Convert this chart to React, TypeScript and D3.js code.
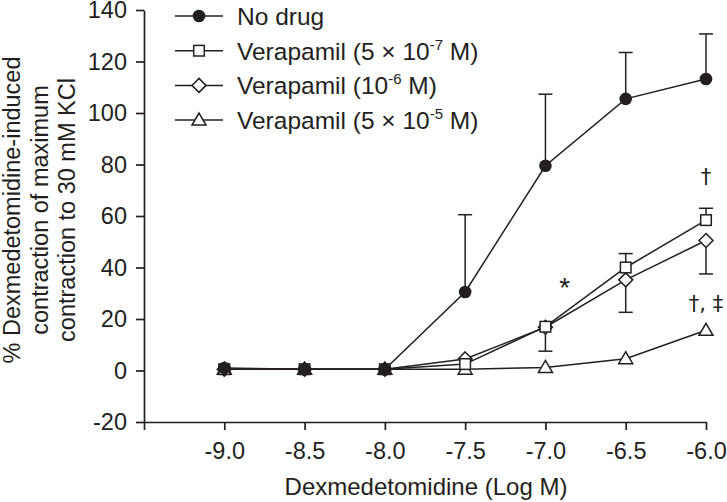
import * as d3 from 'd3';
import * as React from 'react';

const doses = [-9.0, -8.5, -8.0, -7.5, -7.0, -6.5, -6.0];
const noDrug = [1, 0.5, 0.5, 30.5, 79.5, 105.5, 113.2];
const noDrugErr = [0, 0, 0, 30, 27.8, 18, 17.5];
const vera5e7 = [0.5, 0.5, 0.5, 2.5, 17, 40, 58.4];
const vera5e7Err = [0, 0, 0, 0, 0, 5.4, 4.6];
const vera1e6 = [0.5, 0.5, 0.5, 4.5, 16.8, 35.2, 50.5];
const vera1e6Err = [0, 0, 0, 0, 9.3, 12.6, 13];
const vera5e5 = [0.5, 0.5, 0.5, 0.5, 1.2, 4.6, 15.6];
const yTicks = [-20, 0, 20, 40, 60, 80, 100, 120, 140];
const xTicks = [-9.5, -9.0, -8.5, -8.0, -7.5, -7.0, -6.5, -6.0];

const INK = '#231f20';
const FONT = 'Liberation Sans, Arial, sans-serif';

const series = [
  { name: 'No drug', sup: null, values: noDrug, err: noDrugErr, dir: 1, marker: 'circle' },
  { name: 'Verapamil (5 \u00d7 10', sup: '-7', values: vera5e7, err: vera5e7Err, dir: 1, marker: 'square' },
  { name: 'Verapamil (10', sup: '-6', values: vera1e6, err: vera1e6Err, dir: -1, marker: 'diamond' },
  { name: 'Verapamil (5 \u00d7 10', sup: '-5', values: vera5e5, err: null, dir: 1, marker: 'triangle' },
];

const drawMarker = (g, type, x, y) => {
  if (type === 'circle') {
    g.append('circle').attr('cx', x).attr('cy', y).attr('r', 6.3).attr('fill', INK);
  } else if (type === 'square') {
    g.append('rect').attr('x', x - 5.3).attr('y', y - 5.3).attr('width', 10.6).attr('height', 10.6)
      .attr('fill', 'white').attr('stroke', INK).attr('stroke-width', 1.5);
  } else if (type === 'diamond') {
    g.append('path').attr('d', `M${x},${y - 7}L${x + 7},${y}L${x},${y + 7}L${x - 7},${y}Z`)
      .attr('fill', 'white').attr('stroke', INK).attr('stroke-width', 1.5);
  } else {
    g.append('path').attr('d', `M${x},${y - 7}L${x + 7},${y + 5}L${x - 7},${y + 5}Z`)
      .attr('fill', 'white').attr('stroke', INK).attr('stroke-width', 1.5);
  }
};

const App = () => {
  const ref = React.useRef<SVGSVGElement | null>(null);

  React.useEffect(() => {
    const svg = d3.select(ref.current);
    svg.selectAll('*').remove();

    const x = d3.scaleLinear().domain([-9.5, -6.0]).range([144, 706]);
    const y = d3.scaleLinear().domain([-20, 140]).range([422, 10]);

    // axes
    const yAxis = svg.append('g').attr('transform', 'translate(144,0)')
      .call(d3.axisLeft(y).tickValues(yTicks).tickSize(8).tickSizeOuter(0).tickPadding(9)
        .tickFormat((d) => String(d)));
    const xAxis = svg.append('g').attr('transform', 'translate(0,422)')
      .call(d3.axisBottom(x).tickValues(xTicks).tickSize(8).tickSizeOuter(0).tickPadding(12)
        .tickFormat((d) => (d === -9.5 ? '' : (d as number).toFixed(1))));
    [yAxis, xAxis].forEach((a) => {
      a.select('.domain').attr('stroke', INK).attr('stroke-width', 1.7);
      a.selectAll('.tick line').attr('stroke', INK).attr('stroke-width', 1.7);
      a.selectAll('.tick text').attr('fill', INK).style('font-family', FONT).style('font-size', '23.5px');
    });

    // axis titles
    svg.append('text').attr('x', 426).attr('y', 495).attr('text-anchor', 'middle')
      .attr('fill', INK).style('font-family', FONT).style('font-size', '24px')
      .text('Dexmedetomidine (Log M)');
    const yTitle = ['% Dexmedetomidine-induced', 'contraction of maximum', 'contraction to 30 mM KCl'];
    yTitle.forEach((t, i) => {
      svg.append('text').attr('transform', `translate(${20 + i * 27.5},210) rotate(-90)`)
        .attr('text-anchor', 'middle').attr('fill', INK)
        .style('font-family', FONT).style('font-size', '23.5px').text(t);
    });

    const plot = svg.append('g');
    // error bars
    series.forEach((s) => {
      if (!s.err) return;
      s.err.forEach((e, i) => {
        if (!e) return;
        const xp = x(doses[i]);
        const y0 = y(s.values[i]);
        const y1 = y(s.values[i] + s.dir * e);
        plot.append('line').attr('x1', xp).attr('x2', xp).attr('y1', y0).attr('y2', y1)
          .attr('stroke', INK).attr('stroke-width', 1.5);
        plot.append('line').attr('x1', xp - 7).attr('x2', xp + 7).attr('y1', y1).attr('y2', y1)
          .attr('stroke', INK).attr('stroke-width', 1.5);
      });
    });

    // lines
    const line = d3.line<number>().x((_, i) => x(doses[i])).y((d) => y(d));
    series.slice().reverse().forEach((s) => {
      plot.append('path').attr('d', line(s.values)).attr('fill', 'none')
        .attr('stroke', INK).attr('stroke-width', 1.5);
    });
    series.slice().reverse().forEach((s) => {
      s.values.forEach((v, i) => drawMarker(plot, s.marker, x(doses[i]), y(v)));
    });

    // annotations
    const ann = [
      { t: '*', xv: -6.88, yv: 28.5, f: FONT, s: 28 },
      { t: '\u2020', xv: -6.0, yv: 72.5, f: 'DejaVu Sans, sans-serif', s: 21 },
      { t: '\u2020, \u2021', xv: -6.0, yv: 23, f: 'DejaVu Sans, sans-serif', s: 21 },
    ];
    ann.forEach((a) => {
      svg.append('text').attr('x', x(a.xv)).attr('y', y(a.yv)).attr('text-anchor', 'middle')
        .attr('fill', INK).style('font-family', a.f).style('font-size', `${a.s}px`).text(a.t);
    });

    // legend
    const lg = svg.append('g');
    series.forEach((s, i) => {
      const ly = 16 + i * 34.7;
      lg.append('line').attr('x1', 175).attr('x2', 223).attr('y1', ly).attr('y2', ly)
        .attr('stroke', INK).attr('stroke-width', 1.5);
      drawMarker(lg, s.marker, 199, ly);
      const txt = lg.append('text').attr('x', 237).attr('y', ly + 9).attr('fill', INK)
        .style('font-family', FONT).style('font-size', '24.5px');
      txt.append('tspan').text(s.name);
      if (s.sup) {
        txt.append('tspan').attr('dy', -10).style('font-size', '15px').text(s.sup);
        txt.append('tspan').attr('dy', 10).text(' M)');
      }
    });
  }, []);

  return (
    <svg ref={ref} width={727} height={502}
      style={{ position: 'absolute', left: 0, top: 0, background: 'white' }} />
  );
};

export default App;
